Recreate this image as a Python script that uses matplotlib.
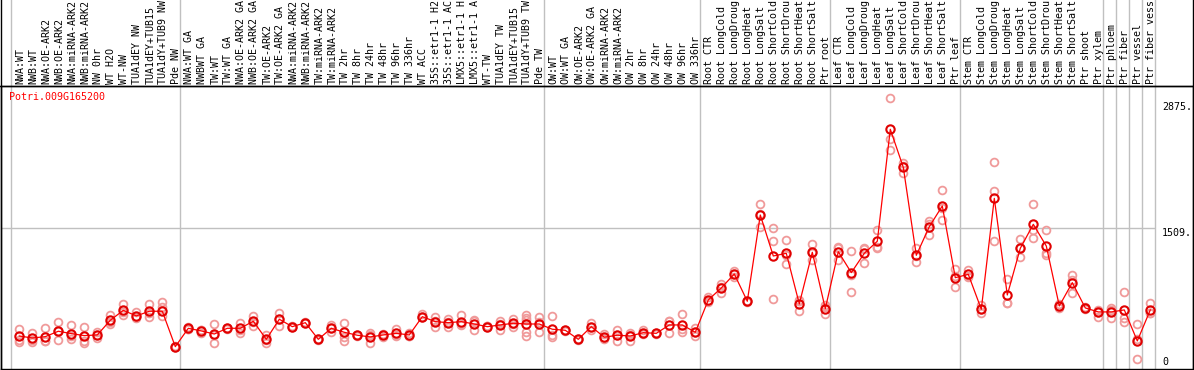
import matplotlib
matplotlib.use("Agg")
import matplotlib.pyplot as plt
from matplotlib.transforms import blended_transform_factory

# sample labels, left to right (as far as they show in the header)
labels = [
    "NWA:WT", "NWB:WT", "NWA:OE-ARK2", "NWB:OE-ARK2", "NWA:miRNA-ARK2", "NWB:miRNA-ARK2",
    "NW 0hr", "WT H2O", "WT-NW", "TUA1dEY NW", "TUA1dEY+TUB15", "TUA1dY+TUB9 NW", "Pde NW",
    "NWA:WT GA", "NWBWT GA", "TW:WT", "TW:WT GA", "NWA:OE-ARK2 GA", "NWB:OE-ARK2 GA",
    "TW:OE-ARK2", "TW:OE-ARK2 GA", "NWA:miRNA-ARK2", "NWB:miRNA-ARK2", "TW:miRNA-ARK2",
    "TW:miRNA-ARK2", "TW 2hr", "TW 8hr", "TW 24hr", "TW 48hr", "TW 96hr", "TW 336hr", "WT ACC",
    "35S::etr1-1 H2", "35S::etr1-1 AC", "LMX5::etr1-1 H", "LMX5::etr1-1 A", "WT-TW",
    "TUA1dEY TW", "TUA1dEY+TUB15", "TUA1dY+TUB9 TW", "Pde TW",
    "OW:WT", "OW:WT GA", "OW:OE-ARK2", "OW:OE-ARK2 GA", "OW:miRNA-ARK2", "OW:miRNA-ARK2",
    "OW 2hr", "OW 8hr", "OW 24hr", "OW 48hr", "OW 96hr", "OW 336hr",
    "Root CTR", "Root LongCold", "Root LongDroug", "Root LongHeat", "Root LongSalt",
    "Root ShortCold", "Root ShortDrou", "Root ShortHeat", "Root ShortSalt", "Ptr root",
    "Leaf CTR", "Leaf LongCold", "Leaf LongDroug", "Leaf LongHeat", "Leaf LongSalt",
    "Leaf ShortCold", "Leaf ShortDrou", "Leaf ShortHeat", "Leaf ShortSalt", "Ptr leaf",
    "Stem CTR", "Stem LongCold", "Stem LongDroug", "Stem LongHeat", "Stem LongSalt",
    "Stem ShortCold", "Stem ShortDrou", "Stem ShortHeat", "Stem ShortSalt", "Ptr shoot",
    "Ptr xylem", "Ptr phloem", "Ptr fiber", "Ptr vessel", "Ptr fiber vess",
]

# group boundaries (index of first sample of each group, plus the end)
group_edges = [0, 13, 41, 53, 63, 73, 84, 85, 86, 87, 88]

means = [
    377, 356, 370, 427, 402, 381, 388, 542, 647, 588, 637, 637, 265,
    458, 430, 398, 458, 458, 532, 342, 553, 475, 517, 342, 458, 416, 385, 367,
    388, 405, 388, 580, 528, 517, 528, 503, 475, 493, 511, 503, 503,
    448, 437, 342, 475, 364, 385, 377, 412, 405, 493, 493, 416,
    756, 882, 1029, 742, 1649, 1218, 1246, 714, 1257, 664,
    1263, 1043, 1246, 1373, 2550, 2150, 1225, 1526, 1744, 990,
    1025, 658, 1824, 808, 1299, 1551, 1323, 693, 938, 672, 630,
    630, 651, 325, 651,
]

replicates = [
    [448, 335, 317], [412, 317, 340], [461, 328, 320], [524, 332, 425], [493, 342, 372],
    [472, 321, 300], [419, 360, 385], [601, 520, 505], [714, 601, 626], [626, 566, 575],
    [714, 580, 618], [735, 679, 588], [265, 258, 272],
    [470, 450, 455], [405, 440, 445], [507, 300, 390], [458, 450, 465], [517, 412, 445],
    [588, 482, 525], [300, 388, 338], [622, 482, 555], [475, 468, 482], [525, 510, 517],
    [342, 335, 350], [493, 416, 465], [517, 364, 328], [385, 378, 392], [405, 307, 390],
    [388, 370, 400], [448, 380, 392], [410, 380, 375], [609, 575, 580], [574, 475, 535],
    [555, 475, 520], [595, 493, 500], [530, 440, 540], [485, 470, 478], [532, 440, 508],
    [559, 469, 505], [601, 545, 422, 377, 570], [574, 416, 520],
    [588, 388, 364], [437, 430, 445], [342, 335, 350], [511, 475, 440], [398, 360, 342],
    [440, 328, 388], [405, 328, 390], [440, 405, 395], [405, 400, 410], [538, 412, 530],
    [605, 422, 450], [458, 377, 416],
    [790, 745, 735], [924, 832, 890], [1060, 1000, 1025], [742, 735, 750], [1765, 1526, 1655],
    [1509, 1379, 766], [1383, 1131, 1225], [750, 640, 752], [1341, 1180, 1250], [700, 609, 683],
    [1316, 1176, 1297], [1271, 837, 1020], [1300, 1141, 1296], [1491, 1316, 1300],
    [2875, 2445, 2332], [2199, 2087, 2165], [1299, 1158, 1218], [1589, 1439, 1550],
    [1912, 1597, 1722], [1078, 889, 1003],
    [1071, 1000, 1004], [700, 616, 658], [2203, 1901, 1379], [973, 727, 724], [1394, 1204, 1299],
    [1761, 1491, 1404], [1491, 1253, 1225], [693, 672, 714], [1018, 826, 970], [685, 658, 672],
    [630, 580, 645],
    [675, 563, 652], [840, 563, 528], [500, 132, 343], [721, 616, 616],
]

gene = "Potri.009G165200"
ref_value = 1509
max_label = "2875."
W, H = 1194, 370
mono = "DejaVu Sans Mono"
fs = 7.2

fig = plt.figure(figsize=(W / 100, H / 100), dpi=100, facecolor="white")
# plot box: x 1..1193 px, y 86..369 px
ax = fig.add_axes([1 / W, (H - 369) / H, 1192 / W, 283 / H])
x = list(range(len(means)))
# pixel x = 19.3 + 13 * i
ax.set_xlim((1 - 19.3) / 13, (1193 - 19.3) / 13)
ax.set_ylim(30, 3005)
ax.set_xticks([])
ax.set_yticks([])
for s in ax.spines.values():
    s.set_color("black")
    s.set_linewidth(1.0)

sep_off = (19.3 - 11) / 13
top_ext = 1 + 86 / 283
for k in group_edges:
    ax.axvline(k - sep_off, ymin=0, ymax=top_ext, color="#c0c0c0", lw=1.0,
               clip_on=False, zorder=1)
ax.hlines(ref_value, (1 - 19.3) / 13, 88 - sep_off, color="#c0c0c0", lw=1.0, zorder=1)

# header line across the whole figure
fig.add_artist(plt.Line2D([0, 1], [1 - 86 / H, 1 - 86 / H], color="black", lw=1.0))
fig.add_artist(plt.Line2D([1 / W, 1 / W], [0, 1], color="black", lw=1.0))
fig.add_artist(plt.Line2D([1193 / W, 1193 / W], [0, 1], color="black", lw=1.0))

# replicate points
for i, reps in enumerate(replicates):
    ax.plot([i] * len(reps), reps, "o", ms=5.6, mfc="none", mec="#f09a9a", mew=1.3,
            zorder=2, clip_on=False)
ax.plot(x, means, "-", color="#ff0000", lw=0.9, zorder=3)
ax.plot(x, means, "o", ms=6.0, mfc="none", mec="#e00000", mew=1.5, zorder=4)

# rotated sample labels in the header
tr = blended_transform_factory(ax.transData, fig.transFigure)
for i, lab in enumerate(labels):
    ax.text(i + 0.08, 1 - 84.5 / H, lab, transform=tr, rotation=90, ha="center",
            va="bottom", family=mono, fontsize=fs, color="black", clip_on=False)

fig.text(9 / W, 1 - 97.5 / H, gene, color="#ff0000", family=mono, fontsize=fs,
         ha="left", va="center")
fig.text(1162 / W, 1 - 107 / H, max_label, family=mono, fontsize=fs, ha="left", va="center")
fig.text(1162 / W, 1 - 232.5 / H, f"{ref_value}.", family=mono, fontsize=fs,
         ha="left", va="center")
fig.text(1162 / W, 1 - 362 / H, "0", family=mono, fontsize=fs, ha="left", va="center")

fig.savefig("out.png", dpi=100, facecolor="white")
